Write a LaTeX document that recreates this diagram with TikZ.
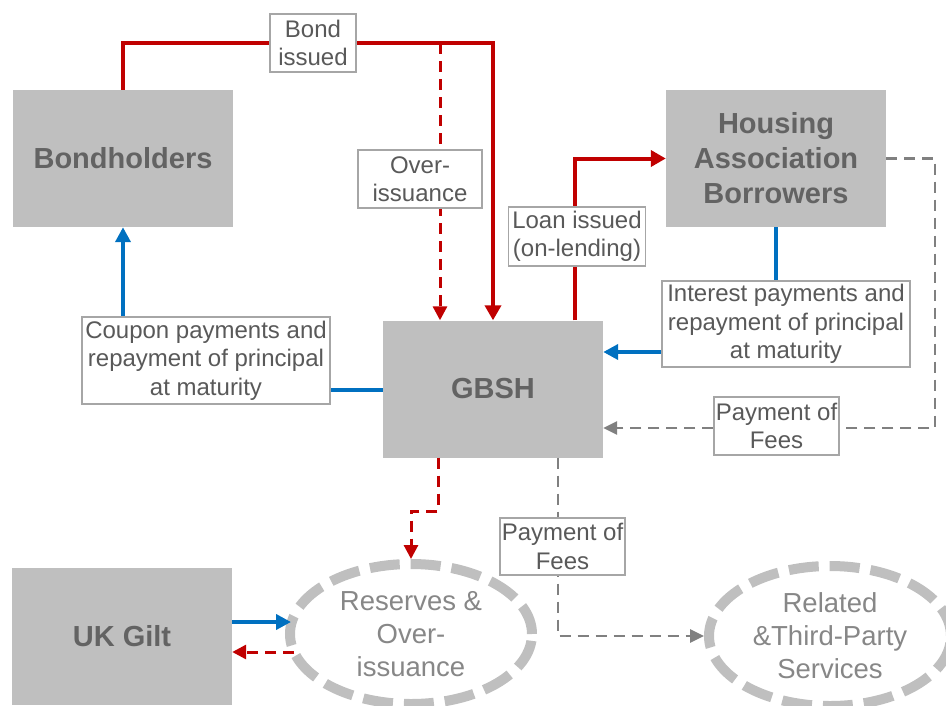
\documentclass[tikz,border=0pt]{standalone}
\usepackage{fontspec}
\setmainfont{Liberation Sans}
\usetikzlibrary{arrows.meta,shapes.geometric,calc}
\definecolor{boxgray}{HTML}{BFBFBF}
\definecolor{boldtxt}{HTML}{636363}
\definecolor{lbltxt}{HTML}{595959}
\definecolor{elltxt}{HTML}{878787}
\definecolor{lblborder}{HTML}{A6A6A6}
\definecolor{flowred}{HTML}{C00000}
\definecolor{flowblue}{HTML}{0070C0}
\definecolor{feegray}{HTML}{808080}
\tikzset{
  party/.style={rectangle, fill=boxgray, minimum width=220pt, minimum height=137pt, inner sep=0pt,
    text=boldtxt, font=\fontsize{29}{35}\selectfont\bfseries, align=center},
  pool/.style={ellipse, draw=boxgray, line width=10pt, dash pattern=on 30pt off 11pt,
    minimum width=242pt, minimum height=140pt, inner sep=0pt,
    text=elltxt, font=\fontsize{27.5}{33}\selectfont, align=center},
  lbl/.style={rectangle, draw=lblborder, line width=1.6pt, fill=white, inner sep=2pt,
    text=lbltxt, font=\fontsize{24}{28.5}\selectfont, align=center},
  redflow/.style={draw=flowred, line width=4pt, -{Triangle[length=15pt,width=16pt]}},
  reddash/.style={draw=flowred, line width=3pt, dash pattern=on 11pt off 7pt, -{Triangle[length=14pt,width=14pt]}},
  blueflow/.style={draw=flowblue, line width=4pt, -{Triangle[length=15pt,width=15pt]}},
  graydash/.style={draw=feegray, line width=2.6pt, dash pattern=on 11pt off 7pt, -{Triangle[length=14pt,width=13pt]}}
}
\begin{document}
\begin{tikzpicture}[x=1pt,y=-1pt]
\useasboundingbox (0,0) rectangle (946,705);
% parties
\node[party] (bh) at (123,158.5) {Bondholders};
\node[party] (gbsh) at (493,389) {GBSH};
\node[party] (hab) at (776,158.5) {Housing\\Association\\Borrowers};
\node[party] (uk) at (122,636.5) {UK Gilt};
\node[pool] (res) at (411,634) {Reserves \&\\Over-\\issuance};
\node[pool] (rel) at (830,636) {Related\\\&Third-Party\\Services};
% helper coordinates
\coordinate (c1) at (493,43);
\coordinate (c2) at (440,43);
\coordinate (c3) at (575,0);
\coordinate (c4) at (0,352);
\coordinate (c5) at (0,390);
\coordinate (c6) at (935,428);
\coordinate (c7) at (438,511);
\coordinate (c8) at (558,0);
\coordinate (c9) at (0,622);
\coordinate (c10) at (0,652);
\coordinate (c11) at (294,652);
\coordinate (c12) at (291,622);
% connectors
\draw[redflow] (bh.north) |- (c1) -- (c1 |- gbsh.north);
\draw[reddash] (c2) -- (c2 |- gbsh.north);
\draw[redflow] (c3 |- gbsh.north) |- (hab.west);
\draw[blueflow] (hab.south) |- (c4 -| gbsh.east);
\draw[blueflow] (c5 -| gbsh.west) -| (bh.south);
\draw[graydash] (hab.east) -| (c6) -- (c6 -| gbsh.east);
\draw[reddash] (c7 |- gbsh.south) -- (c7) -| (res.north);
\draw[graydash] (c8 |- gbsh.south) |- (rel.west);
\draw[blueflow] (c9 -| uk.east) -- (c12);
\draw[reddash] (c11) -- (c10 -| uk.east);
% labels
\node[lbl, minimum width=86pt, minimum height=58pt] (lbond) at (313,43) {Bond\\issued};
\node[lbl, minimum width=124pt, minimum height=58pt] (lover) at (420,179) {Over-\\issuance};
\node[lbl, minimum width=137pt, minimum height=59pt] (lloan) at (577,236.5) {Loan issued\\(on-lending)};
\node[lbl, minimum width=248pt, minimum height=86pt] (lint) at (786,324) {Interest payments and\\repayment of principal\\at maturity};
\node[lbl, minimum width=248pt, minimum height=87pt] (lcoup) at (206,360.5) {Coupon payments and\\repayment of principal\\at maturity};
\node[lbl, minimum width=123pt, minimum height=58pt] (lfee1) at (776.5,426) {Payment of\\Fees};
\node[lbl, minimum width=125pt, minimum height=57pt] (lfee2) at (562.5,546.5) {Payment of\\Fees};
\end{tikzpicture}
\end{document}
